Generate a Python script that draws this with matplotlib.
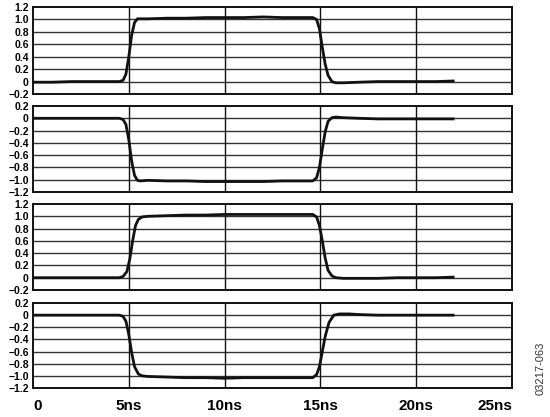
import matplotlib
matplotlib.use("Agg")
import matplotlib.pyplot as plt

plt.rcParams["font.family"] = ["Liberation Sans", "DejaVu Sans"]

t1 = [0, 1, 2, 3, 4, 4.5, 4.7, 4.85, 5.0, 5.15, 5.3, 5.45, 5.6, 6, 7, 8, 9, 10, 11, 12, 13, 14,
      14.6, 14.8, 14.95, 15.1, 15.25, 15.4, 15.6, 15.8, 16.2, 17, 18, 19, 20, 21, 22]
v1 = [-0.01, -0.01, 0.0, 0.0, 0.0, 0.0, 0.02, 0.12, 0.4, 0.75, 0.95, 1.01, 1.01, 1.01, 1.02, 1.02,
      1.03, 1.03, 1.03, 1.04, 1.03, 1.03, 1.03, 1.0, 0.85, 0.55, 0.28, 0.1, 0.0, -0.02, -0.02,
      -0.01, 0.0, 0.0, 0.0, 0.0, 0.01]

t2 = [0, 1, 2, 3, 4, 4.5, 4.7, 4.85, 5.0, 5.15, 5.3, 5.45, 5.6, 6, 7, 8, 9, 10, 11, 12, 13, 14,
      14.6, 14.8, 14.95, 15.1, 15.25, 15.4, 15.6, 15.8, 16.2, 17, 18, 19, 20, 21, 22]
v2 = [0.0, 0.0, 0.0, 0.0, 0.0, 0.0, -0.02, -0.1, -0.35, -0.7, -0.93, -1.01, -1.02, -1.01, -1.02,
      -1.02, -1.03, -1.03, -1.03, -1.03, -1.02, -1.02, -1.02, -0.97, -0.8, -0.5, -0.22, -0.05,
      0.01, 0.02, 0.01, 0.0, -0.01, -0.01, -0.01, -0.01, -0.01]

t3 = [0, 1, 2, 3, 4, 4.5, 4.7, 4.9, 5.05, 5.2, 5.35, 5.5, 5.7, 6, 7, 8, 9, 10, 11, 12, 13, 14,
      14.6, 14.8, 14.95, 15.1, 15.25, 15.4, 15.6, 15.8, 16.2, 17, 18, 19, 20, 21, 22]
v3 = [0.0, 0.0, 0.0, 0.0, 0.0, 0.0, 0.02, 0.1, 0.3, 0.6, 0.85, 0.95, 0.99, 1.0, 1.01, 1.02, 1.02,
      1.03, 1.03, 1.03, 1.03, 1.03, 1.03, 0.99, 0.85, 0.6, 0.32, 0.12, 0.03, 0.0, -0.01, -0.01,
      -0.01, 0.0, 0.0, 0.0, 0.01]

t4 = [0, 1, 2, 3, 4, 4.5, 4.7, 4.85, 5.0, 5.15, 5.3, 5.5, 5.7, 6, 7, 8, 9, 10, 11, 12, 13, 14,
      14.6, 14.8, 14.95, 15.1, 15.25, 15.45, 15.7, 16.0, 16.5, 17, 18, 19, 20, 21, 22]
v4 = [0.0, 0.0, 0.0, 0.0, 0.0, 0.0, -0.02, -0.1, -0.32, -0.62, -0.85, -0.97, -1.0, -1.01, -1.02,
      -1.03, -1.03, -1.04, -1.03, -1.03, -1.03, -1.03, -1.03, -0.98, -0.85, -0.6, -0.35, -0.12,
      0.0, 0.02, 0.02, 0.01, 0.0, 0.0, 0.0, 0.0, 0.0]

traces = [(t1, v1), (t2, v2), (t3, v3), (t4, v4)]
ranges = [(-0.2, 1.2), (-1.2, 0.2), (-0.2, 1.2), (-1.2, 0.2)]
pos_ticks = [-0.2, 0, 0.2, 0.4, 0.6, 0.8, 1.0, 1.2]
pos_labels = ["\u22120.2", "0", "0.2", "0.4", "0.6", "0.8", "1.0", "1.2"]
neg_ticks = [-1.2, -1.0, -0.8, -0.6, -0.4, -0.2, 0, 0.2]
neg_labels = ["\u22121.2", "\u22121.0", "\u22120.8", "\u22120.6", "\u22120.4", "\u22120.2", "0", "0.2"]
x_ticks = [0, 5, 10, 15, 20, 25]
x_labels = ["0", "5ns", "10ns", "15ns", "20ns", "25ns"]

fig = plt.figure(figsize=(5.5, 4.17), dpi=100)
W, H = 550, 417
left, right = 33, 512
panels = [(7, 94), (106, 192), (204, 290), (303, 388)]

for i, ((top, bot), (t, v), (lo, hi)) in enumerate(zip(panels, traces, ranges)):
    ax = fig.add_axes([left / W, 1 - bot / H, (right - left) / W, (bot - top) / H])
    ax.set_xlim(0, 25)
    ax.set_ylim(lo, hi)
    if lo < -1:
        ax.set_yticks(neg_ticks)
        ax.set_yticklabels(neg_labels)
    else:
        ax.set_yticks(pos_ticks)
        ax.set_yticklabels(pos_labels)
    ax.set_xticks(x_ticks)
    for y in (neg_ticks if lo < -1 else pos_ticks)[1:-1]:
        ax.axhline(y, color="#333333", lw=1.0, zorder=1)
    for x in x_ticks[1:-1]:
        ax.axvline(x, color="#111111", lw=1.0, zorder=1)
    ax.plot(t, v, color="#111111", lw=2.0, zorder=3, solid_capstyle="butt")
    for s in ax.spines.values():
        s.set_linewidth(1.4)
        s.set_color("#111111")
    ax.tick_params(axis="both", length=0, pad=3)
    for lab in ax.get_yticklabels():
        lab.set_fontsize(7.5)
        lab.set_fontweight("bold")
    if i == 3:
        ax.set_xticklabels(x_labels, fontsize=11, fontweight="bold")
        ax.tick_params(axis="x", pad=8)
        labs = ax.get_xticklabels()
        labs[0].set_ha("left")
        labs[-1].set_ha("right")
    else:
        ax.set_xticklabels([])

fig.text(541 / W, 1 - 368 / H, "03217-063", rotation=90, fontsize=8,
         color="#333333", ha="center", va="center")

fig.savefig("out.png", dpi=100)
